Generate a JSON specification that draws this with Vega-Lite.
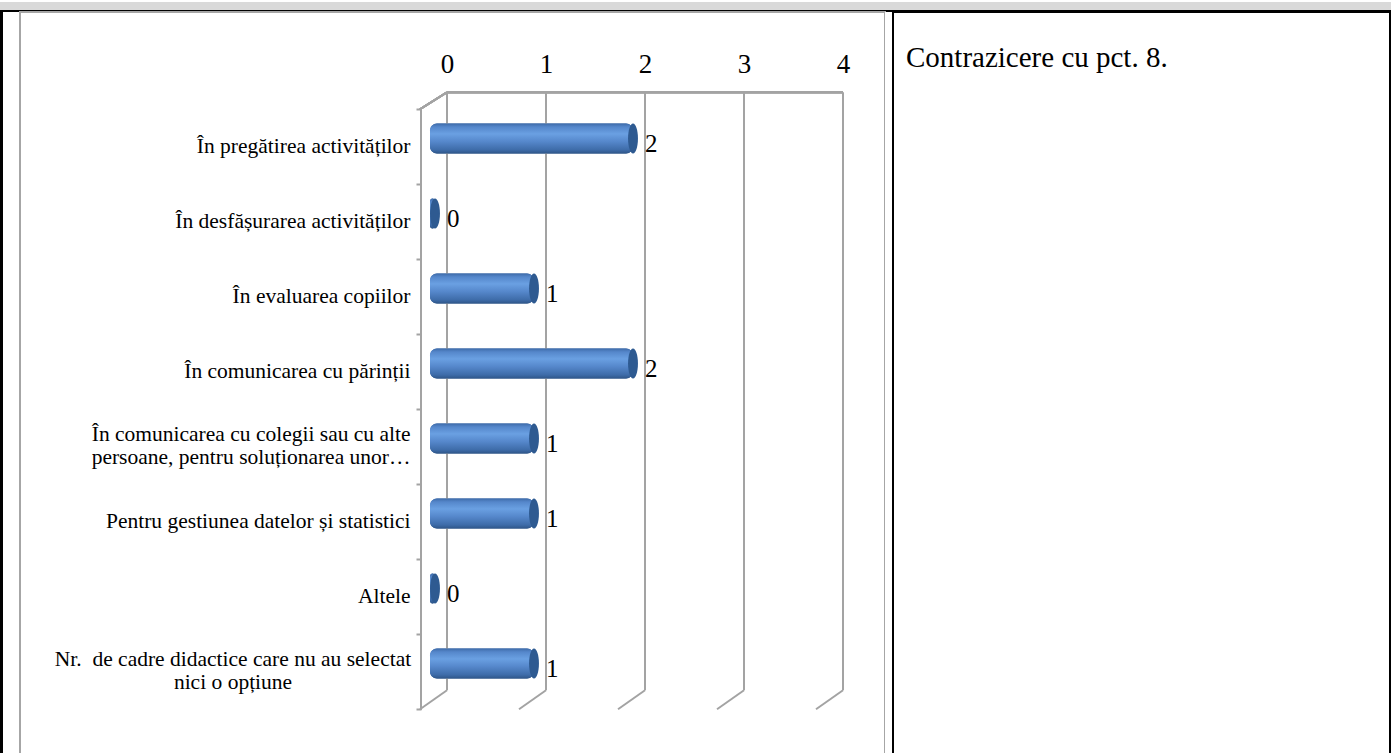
{
  "$schema": "https://vega.github.io/schema/vega-lite/v6.json",
  "padding": 0,
  "background": "white",
  "spacing": 0,
  "bounds": "flush",
  "config": {"concat": {"spacing": 0}, "view": {"stroke": null}},
  "datasets": {
    "bars": [
      {"cat": "În pregătirea activităților", "value": 2},
      {"cat": "În desfășurarea activităților", "value": 0},
      {"cat": "În evaluarea copiilor", "value": 1},
      {"cat": "În comunicarea cu părinții", "value": 2},
      {"cat": "În comunicarea cu colegii sau cu alte\npersoane, pentru soluționarea unor…", "value": 1},
      {"cat": "Pentru gestiunea datelor și statistici", "value": 1},
      {"cat": "Altele", "value": 0},
      {"cat": "Nr. \u00a0de cadre didactice care nu au selectat\nnici o opțiune", "value": 1}
    ],
    "grid": [{"k": 0}, {"k": 1}, {"k": 2}, {"k": 3}, {"k": 4}]
  },
  "vconcat": [
    {
      "width": 1391, "height": 8,
      "view": {"stroke": null, "fill": "#d9d9d9"},
      "data": {"values": []},
      "mark": "text"
    },
    {
      "width": 1391, "height": 2,
      "view": {"stroke": null, "fill": "#000000"},
      "data": {"values": []},
      "mark": "text"
    },
    {
      "spacing": 0,
      "bounds": "flush",
      "hconcat": [
        {
          "width": 3, "height": 750,
          "view": {"stroke": null, "fill": "#000000"},
          "data": {"values": []},
          "mark": "text"
        },
        {
          "width": 17, "height": 750,
          "view": {"stroke": null, "fill": "white"},
          "data": {"values": []},
          "mark": "text"
        },
        {
          "width": 865, "height": 750,
          "view": {"stroke": "#a6a6a6", "strokeWidth": 2, "fill": "white"},
          "data": {"name": "bars"},
          "layer": [
            {
              "mark": {
                "type": "bar", "height": 30, "xOffset": -12, "x2Offset": -17, "yOffset": -8.4, "cornerRadius": 7,
                "color": {"gradient": "linear", "x1": 0, "y1": 0, "x2": 0, "y2": 1, "stops": [
                  {"offset": 0, "color": "#3d6aa8"},
                  {"offset": 0.12, "color": "#5587cb"},
                  {"offset": 0.35, "color": "#6aa0e2"},
                  {"offset": 0.6, "color": "#5688cc"},
                  {"offset": 0.88, "color": "#3e6ca9"},
                  {"offset": 1, "color": "#2f5689"}
                ]}
              },
              "encoding": {
                "y": {
                  "field": "cat", "type": "nominal",
                  "scale": {
                    "domain": [
                      "În pregătirea activităților",
                      "În desfășurarea activităților",
                      "În evaluarea copiilor",
                      "În comunicarea cu părinții",
                      "În comunicarea cu colegii sau cu alte\npersoane, pentru soluționarea unor…",
                      "Pentru gestiunea datelor și statistici",
                      "Altele",
                      "Nr. \u00a0de cadre didactice care nu au selectat\nnici o opțiune"
                    ],
                    "paddingInner": 0, "paddingOuter": 1.00935, "align": 0.6485, "round": false
                  },
                  "axis": {
                    "title": null, "orient": "left", "offset": -401, "domain": false, "grid": false,
                    "ticks": true, "tickBand": "extent", "tickSize": 5, "tickWidth": 2, "tickColor": "#a3a3a3",
                    "labelPadding": {"condition": {"test": "indexof(datum.label, 'nici o') >= 0", "value": 183.5}, "value": 6},
                    "labelAlign": {"condition": {"test": "indexof(datum.label, 'nici o') >= 0", "value": "center"}, "value": "right"},
                    "labelFont": "Liberation Serif, Times New Roman, DejaVu Serif, serif", "labelFontSize": 21.5, "labelColor": "#000000",
                    "labelLimit": 500, "labelLineHeight": 23,
                    "labelOffset": {"condition": {"test": "indexof(datum.label, '\\n') >= 0", "value": -12}, "value": 0},
                    "labelExpr": "split(datum.label, '\\n')"
                  }
                },
                "x": {
                  "field": "value", "type": "quantitative",
                  "scale": {"domain": [-4.3131, 4.4242], "nice": false, "zero": false},
                  "axis": {
                    "title": null, "orient": "top", "offset": -81.7, "values": [0, 1, 2, 3, 4],
                    "domain": false, "grid": false, "ticks": false, "tickSize": 0, "labelPadding": 21,
                    "labelBaseline": "alphabetic", "labelFont": "Liberation Serif, Times New Roman, DejaVu Serif, serif", "labelFontSize": 27,
                    "labelColor": "#000000", "format": "d"
                  }
                },
                "x2": {"datum": 0}
              }
            },
            {
              "mark": {"type": "rule", "color": "#a3a3a3", "strokeWidth": 2, "yOffset": -17, "y2Offset": -17},
              "encoding": {
                "x": {"datum": 0, "type": "quantitative"},
                "x2": {"datum": 4},
                "y": {"datum": "În pregătirea activităților", "type": "nominal", "bandPosition": 0}
              }
            },
            {
              "data": {"name": "grid"},
              "mark": {"type": "rule", "color": "#a3a3a3", "strokeWidth": 2, "yOffset": -17, "y2Offset": -19},
              "encoding": {
                "x": {"field": "k", "type": "quantitative"},
                "y": {"datum": "În pregătirea activităților", "type": "nominal", "bandPosition": 0},
                "y2": {"datum": "Nr. \u00a0de cadre didactice care nu au selectat\nnici o opțiune", "bandPosition": 1}
              }
            },
            {
              "data": {"name": "grid"},
              "mark": {"type": "rule", "color": "#a3a3a3", "strokeWidth": 2, "yOffset": -19, "x2Offset": -27},
              "encoding": {
                "x": {"field": "k", "type": "quantitative"},
                "x2": {"field": "k"},
                "y": {"datum": "Nr. \u00a0de cadre didactice care nu au selectat\nnici o opțiune", "type": "nominal", "bandPosition": 1},
                "y2": {"datum": "Nr. \u00a0de cadre didactice care nu au selectat\nnici o opțiune", "bandPosition": 1}
              }
            },
            {
              "mark": {"type": "rule", "color": "#a3a3a3", "strokeWidth": 2, "yOffset": -17, "x2Offset": -27},
              "encoding": {
                "x": {"datum": 0, "type": "quantitative"},
                "x2": {"datum": 0},
                "y": {"datum": "În pregătirea activităților", "type": "nominal", "bandPosition": 0},
                "y2": {"datum": "În pregătirea activităților", "bandPosition": 0}
              }
            },
            {
              "mark": {"type": "rule", "color": "#a3a3a3", "strokeWidth": 2, "xOffset": -26},
              "encoding": {
                "x": {"datum": 0, "type": "quantitative"},
                "y": {"datum": "În pregătirea activităților", "type": "nominal", "bandPosition": 0},
                "y2": {"datum": "Nr. \u00a0de cadre didactice care nu au selectat\nnici o opțiune", "bandPosition": 1}
              }
            },
            {
              "mark": {
                "type": "bar", "height": 30, "xOffset": -12, "x2Offset": -17, "yOffset": -8.4, "cornerRadius": 7,
                "color": {"gradient": "linear", "x1": 0, "y1": 0, "x2": 0, "y2": 1, "stops": [
                  {"offset": 0, "color": "#3d6aa8"},
                  {"offset": 0.12, "color": "#5587cb"},
                  {"offset": 0.35, "color": "#6aa0e2"},
                  {"offset": 0.6, "color": "#5688cc"},
                  {"offset": 0.88, "color": "#3e6ca9"},
                  {"offset": 1, "color": "#2f5689"}
                ]}
              },
              "encoding": {
                "y": {"field": "cat", "type": "nominal"},
                "x": {"field": "value", "type": "quantitative"},
                "x2": {"datum": 0}
              }
            },
            {
              "mark": {
                "type": "point", "filled": true, "size": 900, "color": "#2e5a91", "opacity": 1, "strokeWidth": 0,
                "shape": "M0,-1A0.33,1,0,1,1,0,1A0.33,1,0,1,1,0,-1Z", "xOffset": -12, "yOffset": -8.4
              },
              "encoding": {
                "y": {"field": "cat", "type": "nominal"},
                "x": {"field": "value", "type": "quantitative"}
              }
            },
            {
              "mark": {"type": "text", "align": "left", "baseline": "middle", "dx": 0, "dy": -3, "font": "Liberation Serif, Times New Roman, DejaVu Serif, serif", "fontSize": 25, "color": "#000000"},
              "encoding": {
                "y": {"field": "cat", "type": "nominal"},
                "x": {"field": "value", "type": "quantitative"},
                "text": {"field": "value", "type": "quantitative"}
              }
            }
          ]
        },
        {
          "width": 8, "height": 750,
          "view": {"stroke": null, "fill": "white"},
          "data": {"values": []},
          "mark": "text"
        },
        {
          "width": 497, "height": 750,
          "view": {"stroke": "#000000", "strokeWidth": 2, "fill": "white"},
          "data": {"values": []},
          "mark": "text",
          "title": {
            "text": "Contrazicere cu pct. 8.", "anchor": "start", "frame": "group", "orient": "top",
            "offset": -84, "dx": 13, "baseline": "alphabetic",
            "font": "Liberation Serif, Times New Roman, DejaVu Serif, serif", "fontSize": 29, "fontWeight": "normal", "color": "#000000"
          }
        }
      ]
    }
  ]
}
